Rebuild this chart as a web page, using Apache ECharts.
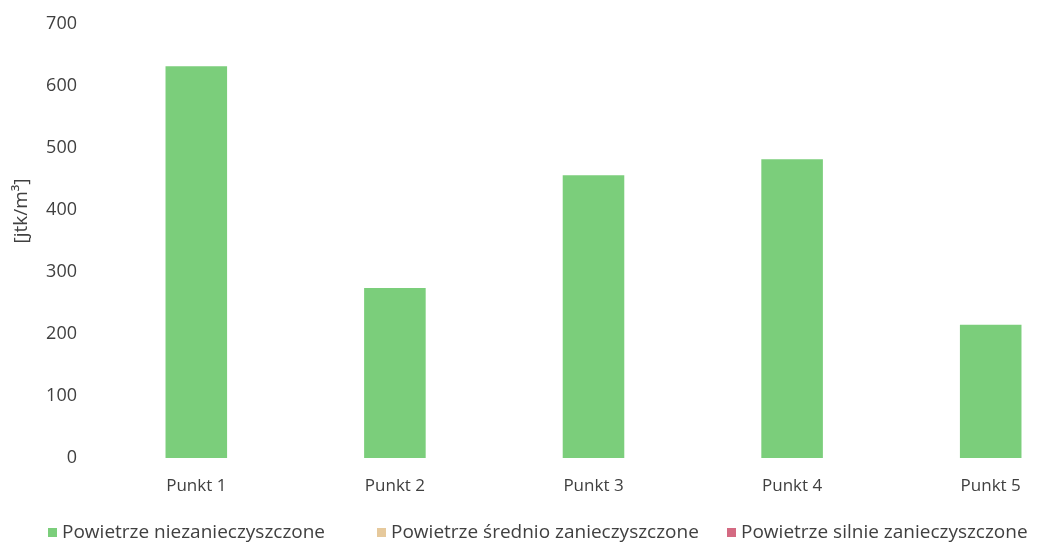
<!DOCTYPE html>
<html>
<head>
<meta charset="utf-8">
<script src="https://cdn.jsdelivr.net/npm/echarts@6/dist/echarts.min.js"></script>
<style>
  html, body { margin: 0; padding: 0; background: #fff; }
  #chart { width: 1049px; height: 549px; }
</style>
</head>
<body>
<div id="chart"></div>
<script>
const categories = ['Punkt 1', 'Punkt 2', 'Punkt 3', 'Punkt 4', 'Punkt 5']
const seriesNames = ['Powietrze niezanieczyszczone', 'Powietrze średnio zanieczyszczone', 'Powietrze silnie zanieczyszczone']
const cleanAir = [632, 274, 456, 482, 215]
const mediumAir = [null, null, null, null, null]
const heavyAir = [null, null, null, null, null]
const yTicks = [0, 100, 200, 300, 400, 500, 600, 700]

const FONT = 'Open Sans'
const TEXT = '#404040'

const chart = echarts.init(document.getElementById('chart'), null, { renderer: 'canvas' })

const barSeries = (name, data, color) => ({
    name: name,
    type: 'bar',
    data: data,
    barWidth: '31%',
    barGap: '-100%',
    itemStyle: { color: color }
})

// one legend per item so each one can sit where the original has it
const legendAt = (left, name) => ({
    left: left,
    top: 518,
    data: [name],
    icon: 'rect',
    itemWidth: 9,
    itemHeight: 9,
    itemGap: 5,
    textStyle: { fontSize: 19, color: TEXT, fontFamily: FONT }
})

chart.setOption({
    backgroundColor: '#fff',
    animation: false,
    textStyle: { fontFamily: FONT },
    legend: [
        legendAt(43, seriesNames[0]),
        legendAt(372, seriesNames[1]),
        legendAt(722, seriesNames[2])
    ],
    grid: {
        left: 97,
        top: 24,
        width: 993,
        bottom: 91,
        outerBoundsMode: 'none'
    },
    xAxis: {
        type: 'category',
        data: categories,
        axisLine: { show: false },
        axisTick: { show: false },
        axisLabel: { color: TEXT, fontSize: 17, margin: 20 }
    },
    yAxis: {
        type: 'value',
        min: yTicks[0],
        max: yTicks[yTicks.length - 1],
        interval: 100,
        name: '[jtk/m³]',
        nameLocation: 'middle',
        nameGap: 66,
        nameTextStyle: { color: TEXT, fontSize: 19, padding: [0, 0, 0, 60] },
        axisLine: { show: false },
        axisTick: { show: false },
        splitLine: { show: false },
        axisLabel: { color: TEXT, fontSize: 18, margin: 20 }
    },
    series: [
        barSeries(seriesNames[0], cleanAir, '#7bce7b'),
        barSeries(seriesNames[1], mediumAir, '#e6c99c'),
        barSeries(seriesNames[2], heavyAir, '#d46a82')
    ]
})
</script>
</body>
</html>
